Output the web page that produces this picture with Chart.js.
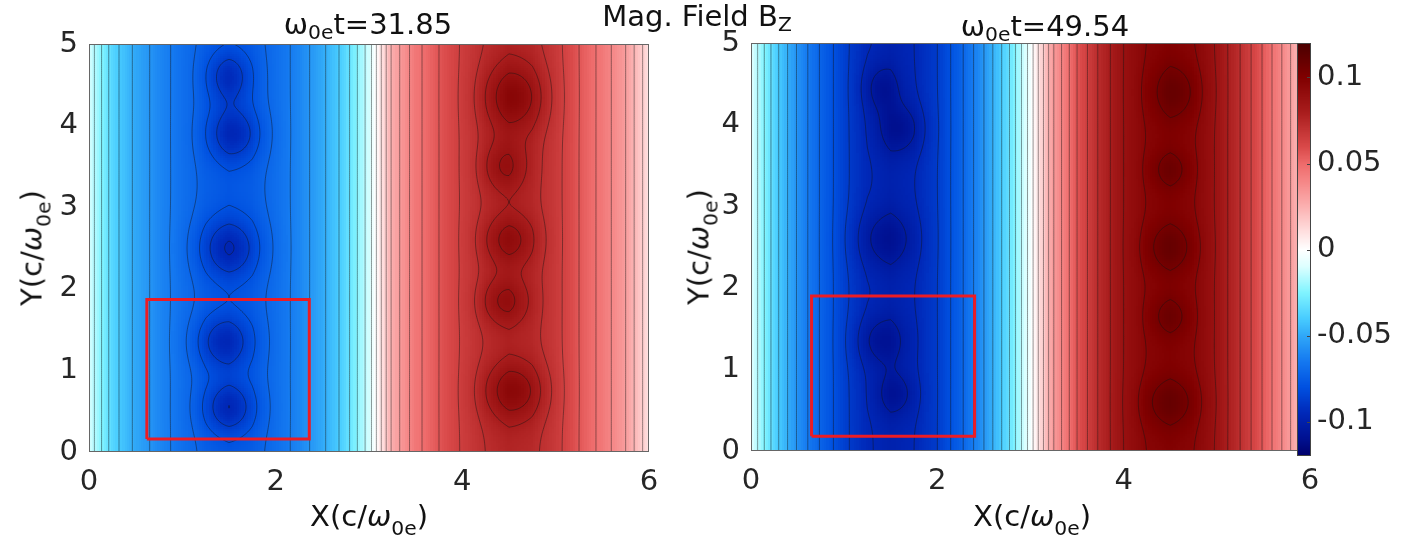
<!DOCTYPE html>
<html>
<head>
<meta charset="utf-8">
<script src="https://cdn.jsdelivr.net/npm/chart.js@4.4.1/dist/chart.umd.min.js"></script>
<style>
  html, body { margin: 0; padding: 0; background: #fff; }
  #wrap { position: relative; width: 1414px; height: 550px; overflow: hidden; font-family: 'DejaVu Sans', sans-serif; color: #111; }
  canvas { position: absolute; top: 0; }
  .lbl { position: absolute; white-space: nowrap; font-size: 29px; line-height: 29px; transform: translateX(-50%); }
  .lbl sub { font-size: 70%; vertical-align: -0.25em; line-height: 0; }
  .ax sub { vertical-align: -0.45em; }
  .rot { transform: translate(-50%, -50%) rotate(-90deg); }
</style>
</head>
<body>
<div id="wrap">
  <canvas id="left" width="700" height="550" style="left:0"></canvas>
  <canvas id="right" width="714" height="550" style="left:700px"></canvas>
  <div class="lbl" style="left:368px; top:10px">ω<sub>0e</sub>t=31.85</div>
  <div class="lbl" style="left:697px; top:2px">Mag. Field B<sub>Z</sub></div>
  <div class="lbl" style="left:1045px; top:12px">ω<sub>0e</sub>t=49.54</div>
  <div class="lbl ax" style="left:369px; top:502px">X(c/<i>ω</i><sub>0e</sub>)</div>
  <div class="lbl ax" style="left:1032px; top:502px">X(c/<i>ω</i><sub>0e</sub>)</div>
  <div class="lbl ax rot" style="left:32px; top:248px">Y(c/<i>ω</i><sub>0e</sub>)</div>
  <div class="lbl ax rot" style="left:699px; top:247px">Y(c/<i>ω</i><sub>0e</sub>)</div>
</div>
<script>
const X_SAMPLES = [0, 0.25, 0.5, 0.75, 1, 1.25, 1.5, 1.75, 2, 2.25, 2.5, 2.75, 3,
                   3.25, 3.5, 3.75, 4, 4.25, 4.5, 4.75, 5, 5.25, 5.5, 5.75, 6];

// Bz averaged along y, left panel (t=31.85)
const PROFILE_LEFT = [-0.010, -0.036, -0.050, -0.060, -0.068, -0.074, -0.077, -0.075, -0.069,
                      -0.061, -0.050, -0.036, -0.012, 0.026, 0.045, 0.056, 0.065, 0.072,
                      0.076, 0.074, 0.067, 0.056, 0.045, 0.032, 0.010];
// right panel (t=49.54)
const PROFILE_RIGHT = [-0.008, -0.036, -0.057, -0.073, -0.086, -0.095, -0.099, -0.096, -0.088,
                       -0.074, -0.056, -0.035, -0.004, 0.032, 0.056, 0.074, 0.088, 0.096,
                       0.099, 0.096, 0.087, 0.072, 0.055, 0.036, 0.012];

// local extrema: [x, y, extra Bz, half width x, half width y]
const BLOBS_LEFT = [
  [1.50, 4.60, -0.017, 0.24, 0.32],
  [1.55, 3.90, -0.019, 0.28, 0.34],
  [1.50, 2.50, -0.020, 0.32, 0.38],
  [1.45, 1.35, -0.019, 0.30, 0.34],
  [1.50, 0.55, -0.019, 0.28, 0.32],
  [4.55, 4.35, 0.020, 0.32, 0.42],
  [4.45, 3.50, 0.014, 0.24, 0.32],
  [4.50, 2.60, 0.016, 0.28, 0.32],
  [4.45, 1.85, 0.015, 0.26, 0.30],
  [4.55, 0.75, 0.019, 0.32, 0.36]
];
const BLOBS_RIGHT = [
  [1.40, 4.45, -0.011, 0.20, 0.30],
  [1.60, 3.95, -0.012, 0.25, 0.32],
  [1.45, 2.60, -0.011, 0.32, 0.36],
  [1.40, 1.35, -0.011, 0.27, 0.32],
  [1.55, 0.70, -0.010, 0.22, 0.28],
  [4.55, 4.40, 0.011, 0.27, 0.36],
  [4.50, 3.45, 0.009, 0.22, 0.26],
  [4.50, 2.50, 0.011, 0.27, 0.32],
  [4.50, 1.65, 0.009, 0.22, 0.26],
  [4.50, 0.60, 0.011, 0.30, 0.32]
];

// red boxes (data units)
const BOX_LEFT = [[0.62, 0.16], [2.36, 0.16], [2.36, 1.87], [0.62, 1.87], [0.62, 0.16]];
const BOX_RIGHT = [[0.65, 0.18], [2.40, 0.18], [2.40, 1.90], [0.65, 1.90], [0.65, 0.18]];

const X_TICKS = [0, 2, 4, 6];
const Y_TICKS = [0, 1, 2, 3, 4, 5];
const CB_TICKS = [-0.1, -0.05, 0, 0.05, 0.1];

// colour map (blue - white - red)
const CMAP_V = [-0.12, -0.11, -0.095, -0.08, -0.065, -0.05, -0.04, -0.025, -0.01, 0,
                0.01, 0.025, 0.04, 0.05, 0.06, 0.08, 0.1, 0.12];
const CMAP_C = ['#00006a', '#001090', '#0028b8', '#0050e0', '#1478f0', '#30a8f8', '#48ccff',
                '#80f4ff', '#dcffff', '#ffffff', '#ffe0e0', '#fbb0b0', '#f58585', '#ee6a6a',
                '#d84848', '#a81c1c', '#800000', '#4a0000'];
const CLIM = 0.12;
const STEP = 0.025;
const LEVEL_STEP = 0.008;

const cmapRgb = CMAP_C.map(h => [1, 3, 5].map(k => parseInt(h.substr(k, 2), 16)));
const colorCache = new Map();
function colorFor(v) {
  v = Math.max(-CLIM, Math.min(CLIM, v));
  const key = Math.round(v * 4000);
  if (colorCache.has(key)) return colorCache.get(key);
  let k = 0;
  while (k < CMAP_V.length - 2 && v > CMAP_V[k + 1]) k++;
  const t = (v - CMAP_V[k]) / (CMAP_V[k + 1] - CMAP_V[k]);
  const a = cmapRgb[k], b = cmapRgb[k + 1];
  const c = 'rgb(' + a.map((q, i) => Math.round(q + (b[i] - q) * t)).join(',') + ')';
  colorCache.set(key, c);
  return c;
}

function profileAt(profile, x) {
  let k = 0;
  while (k < X_SAMPLES.length - 2 && x > X_SAMPLES[k + 1]) k++;
  const t = (x - X_SAMPLES[k]) / (X_SAMPLES[k + 1] - X_SAMPLES[k]);
  return profile[k] + (profile[k + 1] - profile[k]) * t;
}

function buildField(profile, blobs) {
  const nx = Math.round(6 / STEP) + 1, ny = Math.round(5 / STEP) + 1;
  const vals = new Float32Array(nx * ny);
  for (let j = 0; j < ny; j++) {
    for (let i = 0; i < nx; i++) {
      const x = i * STEP, y = j * STEP;
      let v = profileAt(profile, x);
      blobs.forEach(([bx, by, amp, rx, ry]) => {
        const dx = (x - bx) / rx, dy = (y - by) / ry;
        v += amp * Math.exp(-(dx * dx + dy * dy));
      });
      vals[j * nx + i] = v;
    }
  }
  return { nx, ny, vals };
}

const fieldPlugin = {
  id: 'bzField',
  beforeDatasetsDraw(chart, args, opts) {
    const { ctx, chartArea: a } = chart;
    const sx = chart.scales.x, sy = chart.scales.y;
    const f = opts.field;
    ctx.save();
    ctx.beginPath();
    ctx.rect(a.left, a.top, a.width, a.height);
    ctx.clip();
    // cells
    for (let j = 0; j < f.ny; j++) {
      const y = j * STEP;
      const py0 = Math.floor(sy.getPixelForValue(y + STEP / 2));
      const py1 = Math.ceil(sy.getPixelForValue(y - STEP / 2));
      for (let i = 0; i < f.nx; i++) {
        const x = i * STEP;
        const px0 = Math.floor(sx.getPixelForValue(x - STEP / 2));
        const px1 = Math.ceil(sx.getPixelForValue(x + STEP / 2));
        ctx.fillStyle = colorFor(f.vals[j * f.nx + i]);
        ctx.fillRect(px0, py0, px1 - px0, py1 - py0);
      }
    }
    // contour lines (marching squares)
    ctx.beginPath();
    const V = (i, j) => f.vals[j * f.nx + i];
    for (let k = -15; k <= 15; k++) {
      const lv = k * LEVEL_STEP;
      for (let j = 0; j < f.ny - 1; j++) {
        for (let i = 0; i < f.nx - 1; i++) {
          const p = V(i, j), q = V(i + 1, j), r = V(i + 1, j + 1), s = V(i, j + 1);
          const x0 = i * STEP, y0 = j * STEP;
          const pts = [];
          if ((p < lv) !== (q < lv)) pts.push([x0 + (lv - p) / (q - p) * STEP, y0]);
          if ((q < lv) !== (r < lv)) pts.push([x0 + STEP, y0 + (lv - q) / (r - q) * STEP]);
          if ((s < lv) !== (r < lv)) pts.push([x0 + (lv - s) / (r - s) * STEP, y0 + STEP]);
          if ((p < lv) !== (s < lv)) pts.push([x0, y0 + (lv - p) / (s - p) * STEP]);
          for (let m = 0; m + 1 < pts.length; m += 2) {
            ctx.moveTo(sx.getPixelForValue(pts[m][0]), sy.getPixelForValue(pts[m][1]));
            ctx.lineTo(sx.getPixelForValue(pts[m + 1][0]), sy.getPixelForValue(pts[m + 1][1]));
          }
        }
      }
    }
    ctx.strokeStyle = 'rgba(20,20,20,0.6)';
    ctx.lineWidth = 0.75;
    ctx.stroke();
    ctx.restore();
  },
  afterDatasetsDraw(chart, args, opts) {
    const { ctx, chartArea: a } = chart;
    ctx.save();
    ctx.strokeStyle = '#666';
    ctx.lineWidth = 1;
    ctx.strokeRect(a.left + 0.5, a.top + 0.5, a.width - 1, a.height - 1);
    if (opts.colorbar) {
      const cb = chart.scales.cb;
      const x0 = a.right - 13, w = 14;
      const top = Math.round(cb.getPixelForValue(CLIM));
      const bot = Math.round(cb.getPixelForValue(-CLIM));
      for (let py = top; py < bot; py++) {
        ctx.fillStyle = colorFor(cb.getValueForPixel(py + 0.5));
        ctx.fillRect(x0, py, w, 1);
      }
      ctx.strokeStyle = '#444';
      ctx.strokeRect(x0 + 0.5, top + 0.5, w - 1, bot - top - 1);
      ctx.beginPath();
      CB_TICKS.forEach(v => {
        const py = Math.round(cb.getPixelForValue(v)) + 0.5;
        ctx.moveTo(x0 + w - 4, py);
        ctx.lineTo(x0 + w, py);
      });
      ctx.stroke();
    }
    ctx.restore();
  }
};

Chart.defaults.font.family = "'DejaVu Sans', sans-serif";
Chart.defaults.font.size = 29;
Chart.defaults.color = '#262626';

function axisX(height) {
  return {
    type: 'linear', min: 0, max: 6,
    grid: { display: false, drawTicks: false }, border: { display: false },
    ticks: { padding: 13 },
    afterBuildTicks: s => { s.ticks = X_TICKS.map(v => ({ value: v })); },
    afterFit: s => { s.height = height; }
  };
}
function axisY(width) {
  return {
    type: 'linear', min: 0, max: 5,
    grid: { display: false, drawTicks: false }, border: { display: false },
    ticks: { padding: 11 },
    afterBuildTicks: s => { s.ticks = Y_TICKS.map(v => ({ value: v })); },
    afterFit: s => { s.width = width; }
  };
}
function boxDataset(box) {
  return {
    data: box.map(([x, y]) => ({ x, y })),
    showLine: true, borderColor: '#ec1c24', borderWidth: 3,
    pointRadius: 0, fill: false, borderJoinStyle: 'miter'
  };
}

new Chart(document.getElementById('left'), {
  type: 'scatter',
  data: { datasets: [boxDataset(BOX_LEFT)] },
  options: {
    responsive: false, animation: false, events: [],
    layout: { padding: { top: 44, right: 51, left: 0, bottom: 0 } },
    plugins: {
      legend: { display: false }, tooltip: { enabled: false },
      bzField: { field: buildField(PROFILE_LEFT, BLOBS_LEFT), colorbar: false }
    },
    scales: { x: axisX(98), y: axisY(89) }
  },
  plugins: [fieldPlugin]
});

new Chart(document.getElementById('right'), {
  type: 'scatter',
  data: { datasets: [boxDataset(BOX_RIGHT)] },
  options: {
    responsive: false, animation: false, events: [],
    layout: { padding: { top: 43, right: 0, left: 0, bottom: 0 } },
    plugins: {
      legend: { display: false }, tooltip: { enabled: false },
      bzField: { field: buildField(PROFILE_RIGHT, BLOBS_RIGHT), colorbar: true }
    },
    scales: {
      x: axisX(99),
      y: axisY(51),
      cb: {
        axis: 'y', type: 'linear', position: 'right', min: -0.117, max: 0.12,
        grid: { display: false, drawTicks: false }, border: { display: false },
        ticks: { padding: 7, callback: v => String(v) },
        afterBuildTicks: s => { s.ticks = CB_TICKS.map(v => ({ value: v })); },
        afterFit: s => { s.width = 104; }
      }
    }
  },
  plugins: [fieldPlugin]
});
</script>
</body>
</html>
